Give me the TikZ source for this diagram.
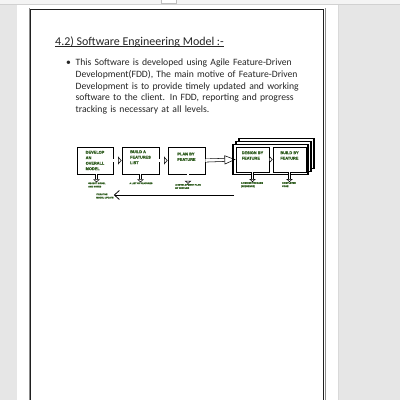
\documentclass[tikz,border=0pt]{standalone}
\usepackage{fontspec}
\setmainfont{Carlito}
\newfontfamily\diagfont[BoldFeatures={FakeBold=1.5}]{Liberation Sans}
\usetikzlibrary{arrows.meta,calc}
\definecolor{bg}{HTML}{E6E6E6}
\definecolor{bar}{HTML}{F4F4F4}
\definecolor{ink}{HTML}{262626}
\definecolor{lbl}{HTML}{2E5C1E}
\begin{document}
\begin{tikzpicture}[x=1bp,y=-1bp,
  procbox/.style={draw=black, line width=0.9bp, fill=white, inner sep=0pt,
    text=lbl, font=\diagfont\bfseries\fontsize{3.9}{5.5}\selectfont, align=left},
  mainbox/.style={procbox, minimum width=37bp, minimum height=27bp},
  featbox/.style={procbox, minimum width=33bp, minimum height=25bp},
  framebox/.style={draw=black, line width=1.3bp, fill=white, minimum width=75bp, minimum height=30bp, inner sep=0pt},
  outlbl/.style={inner sep=0pt, text=lbl, font=\diagfont\bfseries\fontsize{2.2}{3.3}\selectfont, align=left},
  hollowarrow/.style={draw=black, line width=0.55bp, double=white, double distance=2.4bp,
    -{Triangle[open, length=3.5bp, width=8bp, line width=0.55bp]}},
  longarrow/.style={draw=black, line width=0.55bp, double=white, double distance=2.6bp,
    -{Triangle[open, length=11bp, width=9bp, line width=0.55bp]}},
  downarrow/.style={draw=black, line width=0.5bp, double=white, double distance=1.8bp,
    -{Triangle[open, length=3bp, width=6.5bp, line width=0.5bp]}},
  fbarrow/.style={draw=black, line width=0.8bp, -{Straight Barb[length=5bp, width=9bp, line width=0.8bp]}},
  bodytext/.style={inner sep=0pt, text=ink, font=\fontsize{9.7}{11.7}\selectfont}
]
\useasboundingbox (0,0) rectangle (400,400);
% viewer background
\fill[bg] (0,0) rectangle (400,400);
\fill[bar] (0,0) rectangle (400,4.5);
\draw[line width=0.5bp, draw=black!18] (0,4.6) -- (400,4.6);
\draw[line width=0.5bp, draw=black!25, fill=white] (161.5,-1) rectangle (176.5,3);
% page
\fill[white] (17,5) rectangle (338,400);
\draw[line width=0.8bp, draw=black!15] (338.4,5) -- (338.4,400);
\draw[line width=0.5bp, draw=black!45] (29.4,8.4) -- (29.4,405);
\draw[line width=0.5bp, draw=black!45] (324.8,8.4) -- (324.8,405);
\draw[line width=1.3bp, draw=black!88] (30.8,9.8) rectangle (323.3,410);

% heading and paragraph
\node[bodytext, anchor=base west, font=\fontsize{12}{14}\selectfont] (title) at (55,45.2) {4.2) Software Engineering Model :-};
\draw[ink, line width=0.75bp] ($(title.base west)+(0,1.5)$) -- ($(title.base east)+(0,1.5)$);
\node[bodytext, anchor=base] (bullet) at (68.5,65.7) {•};
\node[bodytext, anchor=base west, text width=224.5bp, align=left] (body) at (75.5,65.7)
 {\makebox[224bp][s]{This Software is developed using Agile Feature-Driven}\\
  \makebox[224bp][s]{Development(FDD), The main motive of Feature-Driven}\\
  \makebox[224bp][s]{Development is to provide timely updated and working}\\
  \makebox[224bp][s]{software to the client. In FDD, reporting and progress}\\
  tracking is necessary at all levels.};

% process boxes
\node[mainbox, minimum width=36bp] (b1) at (95,160.5) {DEVELOP\\AN\\OVERALL\\MODEL};
\node[mainbox] (b2) at (140.5,160.5) {BUILD A\\FEATURES\\LIST\\[1bp]};
\node[mainbox] (b3) at (186.5,160.5) {PLAN BY\\FEATURE\\[2bp]};

% stacked frames for the iterative part
\node[framebox] (back2) at (276.6,153.2) {};
\node[framebox] (back1) at (273.6,156.2) {};
\node[framebox] (front) at (270.6,159.2) {};
\node[featbox] (dbf) at (252.5,159.5) {DESIGN BY\\FEATURE\\[2.5bp]};
\node[featbox] (bbf) at (289.5,159.5) {BUILD BY\\FEATURE\\[2.5bp]};

% outputs
\node[outlbl, anchor=north] (o1) at (97,182.3) {OBJECT MODEL\\AND NOTES};
\node[outlbl, anchor=north] (o2) at (141,182.3) {A LIST OF FEATURES};
\node[outlbl, anchor=north] (o3) at (188,183.8) {A DEVELOPMENT PLAN\\BY FEATURE};
\node[outlbl, anchor=north] (o4) at (252,182) {A DESIGN PACKAGE\\(SEQUENCE)};
\node[outlbl, anchor=north] (o5) at (289,182) {COMPLETED\\CODE};

% connectors
\draw[hollowarrow] (b1.east) -- (b2.west);
\draw[hollowarrow] (b2.east) -- (b3.west);
\draw[longarrow] (b3.east) -- (dbf.west);
\draw[hollowarrow] (dbf.east) -- (bbf.west);
\draw[downarrow] (b1.south) ++(1.5,0) coordinate (d1) -- (d1 |- o1.north);
\draw[downarrow] (b2.south) -- (b2.south |- o2.north);
\draw[downarrow] (b3.south) ++(1.5,0) coordinate (d3) -- (d3 |- o3.north);
\draw[downarrow] (dbf.south) -- (dbf.south |- o4.north);
\draw[downarrow] (bbf.south) -- (bbf.south |- o5.north);

% feedback arrow
\node[outlbl, anchor=west] (fb) at (96,196) {ITERATIVE\\MODEL UPDATE};
\coordinate (fbs) at (234,195);
\draw[fbarrow] (fbs) -- (fbs -| fb.east);
\end{tikzpicture}
\end{document}
